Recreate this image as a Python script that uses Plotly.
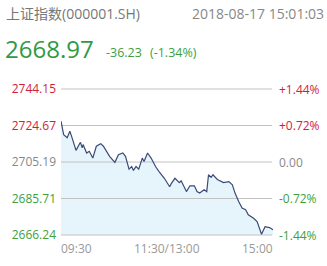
import plotly.graph_objects as go

# minute index since 09:30 (0..240, lunch break removed) and index level
minutes = [0, 3, 7, 10, 12, 17, 22, 24, 25, 29, 32, 36, 40, 45, 48, 55, 61, 65, 70, 73,
           77, 80, 82, 85, 88, 92, 94, 98, 102, 107, 111, 117, 123, 125, 129, 134, 136,
           142, 146, 151, 154, 157, 162, 165, 167, 170, 172, 177, 184, 190, 194, 197,
           201, 205, 209, 212, 218, 222, 227, 231, 236, 240]
prices = [2727.0, 2719.8, 2718.1, 2721.6, 2718.9, 2711.4, 2715.7, 2712.7, 2714.5, 2710.0,
          2710.9, 2707.3, 2713.6, 2715.0, 2713.6, 2708.2, 2705.0, 2709.1, 2710.0, 2708.2,
          2701.4, 2702.8, 2700.7, 2702.8, 2701.4, 2707.3, 2705.5, 2710.0, 2707.3, 2702.8,
          2700.1, 2696.5, 2692.0, 2693.8, 2696.5, 2694.2, 2695.2, 2689.4, 2692.5, 2692.5,
          2689.4, 2688.6, 2690.4, 2689.4, 2698.4, 2697.0, 2698.4, 2695.9, 2694.2, 2694.7,
          2693.0, 2688.6, 2684.2, 2680.6, 2679.7, 2677.0, 2675.2, 2673.4, 2666.6, 2670.7,
          2670.2, 2669.0]

y_ticks = [2744.15, 2724.67, 2705.19, 2685.71, 2666.24]
left_labels = ["2744.15", "2724.67", "2705.19", "2685.71", "2666.24"]
right_labels = ["+1.44%", "+0.72%", "0.00", "-0.72%", "-1.44%"]
label_colors = ["#cf1d3b", "#cf1d3b", "#888888", "#3d9f3d", "#3d9f3d"]
x_tick_vals = [0, 120, 240]
x_tick_text = ["09:30", "11:30/13:00", "15:00"]

title = "上证指数(000001.SH)"
timestamp = "2018-08-17 15:01:03"
last_price = "2668.97"
change = "-36.23"
change_pct = "(-1.34%)"

base = y_ticks[-1]
fig = go.Figure()
# baseline for the area fill (bottom grid level)
fig.add_trace(go.Scatter(x=[minutes[0], minutes[-1]], y=[base, base], mode="lines",
                         line=dict(color="rgba(0,0,0,0)", width=0), hoverinfo="skip"))
# light-blue area under the price line
fig.add_trace(go.Scatter(x=minutes, y=prices, mode="lines",
                         line=dict(color="rgba(0,0,0,0)", width=0),
                         fill="tonexty", fillcolor="#e6f5fc", hoverinfo="skip"))
# grid lines drawn over the area fill
for v in y_ticks:
    fig.add_trace(go.Scatter(x=[0, 239], y=[v, v], mode="lines",
                             line=dict(color="#c2c2c2", width=1), hoverinfo="skip"))
# price line on top
fig.add_trace(go.Scatter(x=minutes, y=prices, mode="lines",
                         line=dict(color="#3b4a78", width=1.2), hoverinfo="skip"))

pad = 2.135
yr = [y_ticks[-1] - pad, y_ticks[0] + pad]
font = "Open Sans, Noto Sans CJK SC, sans-serif"
T, B = 85, 27
fig.update_layout(
    width=327, height=266,
    margin=dict(l=59, r=54, t=T, b=B),
    paper_bgcolor="white", plot_bgcolor="white",
    showlegend=False,
    font=dict(family=font, size=12, color="#888888"),
    xaxis=dict(range=[0, 240], showgrid=False, zeroline=False,
               showticklabels=False, showline=False),
    yaxis=dict(range=yr, tickvals=y_ticks,
               ticktext=[f"<span style='color:{c}'>{t}</span>" for t, c in zip(left_labels, label_colors)],
               showgrid=False, zeroline=False,
               ticklabelstandoff=4, tickfont=dict(size=12)),
)

# right-hand percentage labels at the same levels
for v, t, c in zip(y_ticks, right_labels, label_colors):
    fig.add_annotation(x=1, xref="paper", y=v, yref="y", text=t, showarrow=False,
                       xanchor="left", yanchor="middle", xshift=6,
                       borderpad=0, borderwidth=0, font=dict(size=12, color=c))

anchors = ["left", "center", "right"]
for v, t, a in zip(x_tick_vals, x_tick_text, anchors):
    fig.add_annotation(x=v, xref="x", y=base, yref="y", text=t, showarrow=False,
                       xanchor=a, yanchor="top", yshift=-5, borderpad=0, borderwidth=0,
                       font=dict(size=12, color="#999999"))

H = 266.0 - T - B
def py(Y):
    return (266 - B - Y) / H
def px(X):
    return (X - 59) / 214.0

def header(X, Y, text, size, color, anchor="left"):
    fig.add_annotation(x=px(X), y=py(Y), xref="paper", yref="paper", text=text,
                       showarrow=False, xanchor=anchor, yanchor="middle",
                       borderpad=0, borderwidth=0, font=dict(size=size, color=color))

header(3, 14, title, 14, "#777777")
header(324, 14, timestamp, 14, "#888888", anchor="right")
header(2, 49, last_price, 24, "#2e9a48")
header(104, 52, change, 12.5, "#3d9f3d")
header(149, 52, change_pct, 12.5, "#3d9f3d")

fig.write_html("out.html")
